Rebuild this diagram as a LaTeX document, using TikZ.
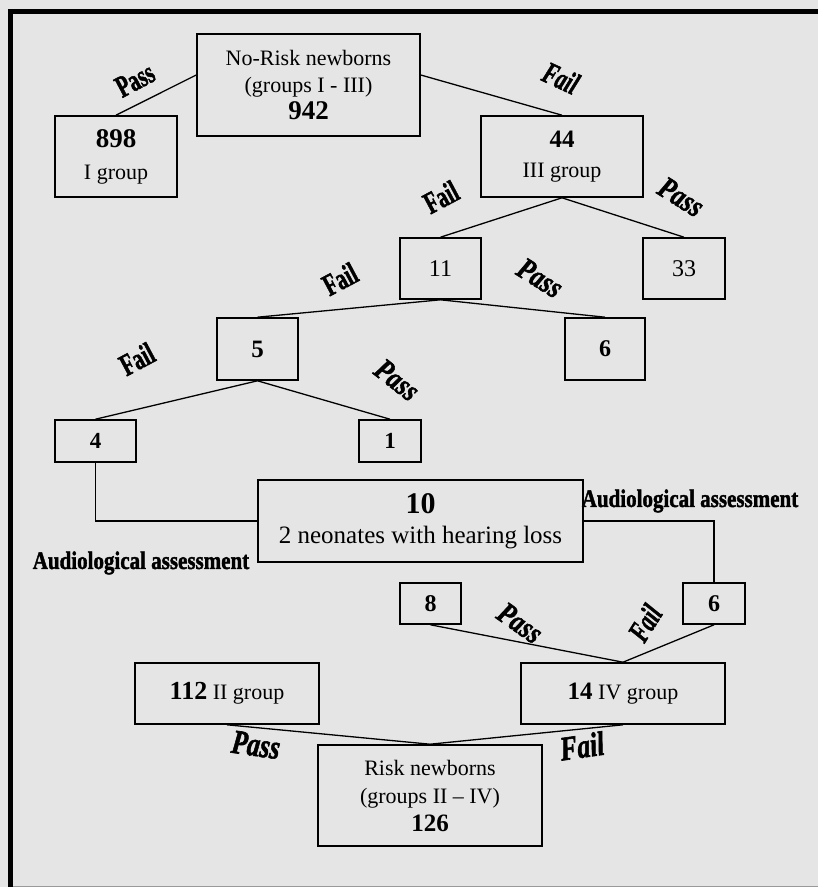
\documentclass[tikz,border=0pt]{standalone}
\usepackage{fontspec}
\setmainfont{Liberation Serif}
\newfontfamily\heavyfont{Liberation Serif Bold}[FakeBold=1.8]
\newfontfamily\heavyitfont{Liberation Serif Bold Italic}[FakeBold=1.8]
\usetikzlibrary{calc}
\definecolor{bgc}{HTML}{E5E5E5}
\begin{document}
\begin{tikzpicture}[x=1pt,y=1pt,
 box/.style={draw, line width=1.6pt, inner sep=0pt, align=center, font=\fontsize{22}{27}\selectfont},
 conn/.style={line width=1.3pt},
 lab/.style={font=\fontsize{22}{22}\selectfont\heavyfont, xscale=.95, yscale=1.4, inner sep=0pt},
 labi/.style={lab, font=\fontsize{22}{22}\selectfont\heavyitfont},
 passw/.style={xscale=1.2},
 low/.style={font=\fontsize{27}{27}\selectfont\heavyitfont, yscale=.9},
 aud/.style={font=\fontsize{21}{21}\selectfont\heavyfont, yscale=1.2, inner sep=0pt}]
% background and frame
\fill[bgc] (0,0) rectangle (818,-887);
\useasboundingbox (0,0) rectangle (818,-887);
\fill[black] (8,-9) rectangle (818,-14);
\fill[black] (8,-9) rectangle (13,-887);
\draw[black!40, line width=1pt] (13,-886) -- (818,-886);

% boxes
\node[box, minimum width=223pt, minimum height=102pt] (norisk) at (308.5,-85) {No-Risk newborns\\(groups I - III)\\{\fontsize{27}{27}\selectfont\textbf{942}}};
\node[box, minimum width=122pt, minimum height=81pt, font=\fontsize{22}{32}\selectfont] (b898) at (116,-156.5) {{\fontsize{27}{27}\selectfont\textbf{898}}\\I group};
\node[box, minimum width=162pt, minimum height=81pt, font=\fontsize{22}{30}\selectfont] (b44) at (562,-156.5) {{\fontsize{25}{25}\selectfont\textbf{44}}\\III group};
\node[box, minimum width=81pt, minimum height=61pt, font=\fontsize{24}{24}\selectfont] (b11) at (440.5,-268.5) {11};
\node[box, minimum width=82pt, minimum height=61pt, font=\fontsize{24}{24}\selectfont] (b33) at (684,-268.5) {33};
\node[box, minimum width=81pt, minimum height=62pt, font=\fontsize{25}{25}\selectfont\bfseries] (b5) at (257.5,-349) {5};
\node[box, minimum width=80pt, minimum height=62pt, font=\fontsize{24}{24}\selectfont\bfseries] (b6a) at (605,-349) {6};
\node[box, minimum width=81pt, minimum height=42pt, font=\fontsize{23}{23}\selectfont\bfseries] (b4) at (95.5,-441) {4};
\node[box, minimum width=62pt, minimum height=42pt, font=\fontsize{23}{23}\selectfont\bfseries] (b1) at (390,-441) {1};
\node[box, minimum width=325pt, minimum height=82pt, font=\fontsize{25}{30}\selectfont] (b10) at (420.5,-521) {{\fontsize{30}{30}\selectfont\textbf{10}}\\2 neonates with hearing loss};
\node[box, minimum width=61pt, minimum height=41pt, font=\fontsize{24}{24}\selectfont\bfseries] (b8) at (430.5,-603.5) {8};
\node[box, minimum width=62pt, minimum height=41pt, font=\fontsize{24}{24}\selectfont\bfseries] (b6b) at (714,-603.5) {6};
\node[box, minimum width=184pt, minimum height=61pt] (b112) at (227,-693.5) {{\fontsize{26}{26}\selectfont\textbf{112}} II group};
\node[box, minimum width=204pt, minimum height=61pt] (b14) at (623,-693.5) {{\fontsize{25}{25}\selectfont\textbf{14}} IV group};
\node[box, minimum width=224pt, minimum height=101pt, font=\fontsize{22}{28}\selectfont] (risk) at (430,-795.5) {Risk newborns\\(groups II – IV)\\{\fontsize{25}{25}\selectfont\textbf{126}}};

% connectors
\draw[conn] (b898.north) -- ($(norisk.west)+(0,10)$);
\draw[conn] ($(norisk.east)+(0,10)$) -- (b44.north);
\draw[conn] (b44.south) -- (b11.north);
\draw[conn] (b44.south) -- (b33.north);
\draw[conn] (b11.south) -- (b5.north);
\draw[conn] (b11.south) -- (b6a.north);
\draw[conn] (b5.south) -- (b4.north);
\draw[conn] (b5.south) -- (b1.north);
\draw[conn] (b4.south) |- (b10.west);
\draw[conn] (b10.east) -| (b6b.north);
\draw[conn] (b8.south) -- (b14.north);
\draw[conn] (b6b.south) -- (b14.north);
\draw[conn] (b112.south) -- (risk.north);
\draw[conn] (b14.south) -- (risk.north);

% labels
\node[rotate=28, lab] (l1) at (135,-80) {Pass};
\node[rotate=-25, labi] (l2) at (561,-78) {Fail};
\node[rotate=28, lab] (l3) at (441,-197) {Fail};
\node[rotate=-32, labi, passw] (l4) at (681,-197) {Pass};
\node[rotate=28, lab] (l5) at (340,-279) {Fail};
\node[rotate=-32, labi, passw] (l6) at (540,-278) {Pass};
\node[rotate=28, lab] (l7) at (137,-359) {Fail};
\node[rotate=-38, labi, passw] (l8) at (397,-380) {Pass};
\node[aud] (a1) at (690,-501) {Audiological assessment};
\node[aud] (a2) at (141,-563) {Audiological assessment};
\node[rotate=-35, labi, passw] (l9) at (520,-623) {Pass};
\node[rotate=58, labi] (l10) at (645,-623) {Fail};
\node[rotate=-8, labi, low] (l11) at (256,-745) {Pass};
\node[rotate=8, labi, low] (l12) at (582,-746) {Fail};
\end{tikzpicture}
\end{document}
